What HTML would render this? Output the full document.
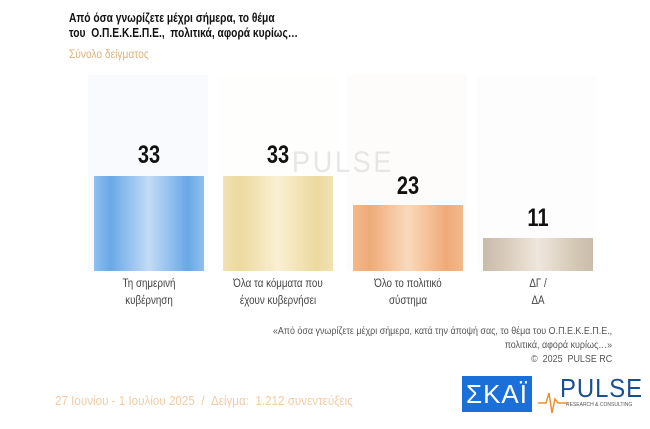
<!DOCTYPE html>
<html><head><meta charset="utf-8"><style>
body{margin:0;width:650px;height:429px;background:#fff;position:relative;overflow:hidden;font-family:"Liberation Sans","DejaVu Sans",sans-serif}
.a{position:absolute}
.t{left:69px;top:11px;font-size:12.5px;font-weight:bold;line-height:15px;color:#111;transform:scaleX(.82);transform-origin:left}
.s{left:69px;top:47px;font-size:12px;color:#ddb27a;transform:scaleX(.85);transform-origin:left}
.bg{top:75px;height:196px;width:120px}
.bar{width:110px}
.n{width:110px;text-align:center;font-size:25px;font-weight:bold;color:#111;transform:scaleX(.8)}
.c{width:130px;text-align:center;font-size:11.5px;line-height:17px;color:#444;transform:scaleX(.85)}
.f{right:38px;top:324px;text-align:right;font-size:10.5px;line-height:14px;color:#555;transform:scaleX(.85);transform-origin:right}
</style></head><body>
<div class="a t">Από όσα γνωρίζετε μέχρι σήμερα, το θέμα<br>του &nbsp;Ο.Π.Ε.Κ.Ε.Π.Ε., &nbsp;πολιτικά, αφορά κυρίως…</div>
<div class="a s">Σύνολο δείγματος</div>
<div class="a bg" style="left:88px;background:#f8fafd"></div>
<div class="a bg" style="left:218px;background:#fefefc"></div>
<div class="a bg" style="left:347px;background:#fefcfa"></div>
<div class="a bg" style="left:477px;background:#fdfdfd"></div>
<div class="a" style="left:292px;top:146px;font-size:30px;color:#e6e6e6;letter-spacing:3px;transform:scaleX(.9);transform-origin:left">PULSE</div>
<div class="a bar" style="left:94px;top:176px;height:95px;background:linear-gradient(90deg,#8fc0ee,#6aa8e6 15%,#c2dcf6 50%,#6aa8e6 85%,#8fc0ee)"></div>
<div class="a bar" style="left:223px;top:176px;height:95px;background:linear-gradient(90deg,#f0e2b2,#ecd9a0 15%,#faf0d2 50%,#ecd9a0 85%,#f0e2b2)"></div>
<div class="a bar" style="left:353px;top:205px;height:66px;background:linear-gradient(90deg,#f2b98c,#eeaa78 15%,#fbd9bc 50%,#eeaa78 85%,#f2b98c)"></div>
<div class="a bar" style="left:483px;top:238px;height:33px;background:linear-gradient(90deg,#c9bcaa,#d3c6b4 15%,#efe6dc 50%,#d3c6b4 85%,#c9bcaa)"></div>
<div class="a n" style="left:94px;top:141px">33</div>
<div class="a n" style="left:223px;top:141px">33</div>
<div class="a n" style="left:353px;top:172px">23</div>
<div class="a n" style="left:483px;top:204px">11</div>
<div class="a c" style="left:84px;top:276px">Τη σημερινή<br>κυβέρνηση</div>
<div class="a c" style="left:213px;top:276px">Όλα τα κόμματα που<br>έχουν κυβερνήσει</div>
<div class="a c" style="left:343px;top:276px">Όλο το πολιτικό<br>σύστημα</div>
<div class="a c" style="left:473px;top:276px">ΔΓ /<br>ΔΑ</div>
<div class="a f">«Από όσα γνωρίζετε μέχρι σήμερα, κατά την άποψή σας, το θέμα του Ο.Π.Ε.Κ.Ε.Π.Ε.,<br>πολιτικά, αφορά κυρίως…»<br>© &nbsp;2025 &nbsp;PULSE RC</div>
<div class="a" style="left:55px;top:394px;font-size:12.5px;color:#f2cba4;transform:scaleX(.93);transform-origin:left">27 Ιουνίου - 1 Ιουλίου 2025 &nbsp;/ &nbsp;Δείγμα: &nbsp;1.212 συνεντεύξεις</div>
<div class="a" style="left:462px;top:376px;width:70px;height:36px;background:#1a6fd8;color:#fff;font-size:26px;line-height:36px;text-align:center;letter-spacing:1px">ΣΚΑΪ</div>
<div class="a" style="left:560px;top:373px;font-size:26px;color:#1a4f90;letter-spacing:1px;transform:scaleX(.92);transform-origin:left">PULSE</div>
<div class="a" style="left:566px;top:402px;font-size:5px;color:#555">RESEARCH &amp; CONSULTING</div>
<svg class="a" style="left:538px;top:385px" width="30" height="30"><polyline points="0,18 8,18 11,8 14,28 17,14 20,18 30,18" fill="none" stroke="#e8922e" stroke-width="1.5"/></svg>
</body></html>
